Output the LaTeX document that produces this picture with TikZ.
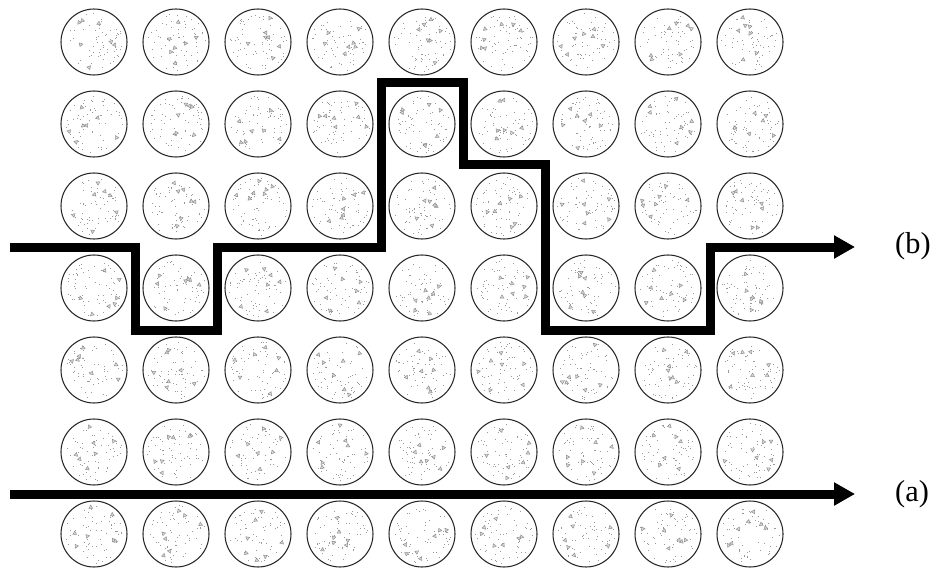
\documentclass[tikz,border=0pt]{standalone}
\usepackage{fontspec}
\setmainfont{Liberation Serif}
\usetikzlibrary{arrows.meta}

% speckled filling of one grain, #1 = centre
\newcommand{\speckle}[1]{%
  \begin{scope}[shift={(#1)}]
    \foreach \k in {1,...,60} {%
      \pgfmathsetmacro{\dr}{29*sqrt(rnd)}%
      \pgfmathsetmacro{\da}{360*rnd}%
      \fill[speck] (\da:\dr) rectangle ++(1,1);
    }
    \foreach \k in {1,...,7} {%
      \pgfmathsetmacro{\dr}{27*sqrt(rnd)}%
      \pgfmathsetmacro{\da}{360*rnd}%
      \pgfmathsetmacro{\tilt}{360*rnd}%
      \draw[grit, shift={(\da:\dr)}, rotate=\tilt]
        (90:2.2) -- (210:2.2) -- (330:2.2) -- cycle;
    }
  \end{scope}}

\begin{document}
\begin{tikzpicture}[
    x=0.03cm, y=-0.03cm,
    grain/.style={circle, draw=black!85, line width=0.9pt,
                  minimum size=1.98cm, inner sep=0pt},
    speck/.style={black!40},
    grit/.style={draw=black!45, fill=black!15, line width=0.4pt},
    route/.style={-{Triangle[length=6.3mm, width=6.6mm]},
                  line width=2.7mm, black},
    tag/.style={font=\fontsize{25.9}{30}\selectfont, inner sep=0pt, anchor=west},
]
\useasboundingbox (0,0) rectangle (931,569);
\pgfmathsetseed{17}

% ── grains: 9 columns, 7 rows ──
\foreach \i in {1,...,9} {
  \foreach \j in {1,...,7} {
    \node[grain] (g-\i-\j) at ({94+82*(\i-1)}, {42+82*(\j-1)}) {};
    \speckle{g-\i-\j}
  }
}

% ── labels ──
\node[tag] (lbl-b) at (895,246) {(b)};
\node[tag] (lbl-a) at (895,494) {(a)};

% ── paths ──
\coordinate (b-start) at (10,247);
\coordinate (a-start) at (10,494);

\draw[route, shorten >=1.2cm] (b-start) -| (135,330) -| (217,247) -| (381,83)
    -| (463,165) -| (545,330) -| (710,247) -- (lbl-b.west |- b-start);
\draw[route, shorten >=1.2cm] (a-start) -- (lbl-a.west);

\end{tikzpicture}
\end{document}
